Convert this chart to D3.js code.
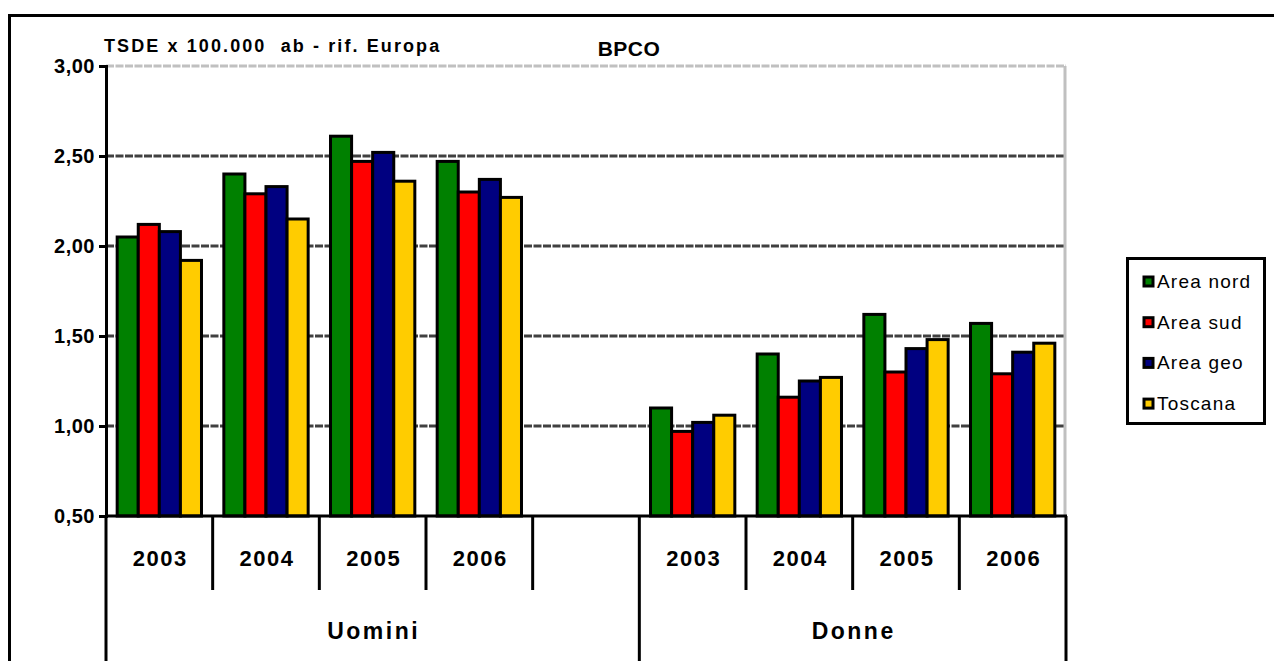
<!DOCTYPE html>
<html>
<head>
<meta charset="utf-8">
<script src="https://cdn.jsdelivr.net/npm/d3@7"></script>
<style>
  body { margin: 0; background: #fff; }
  svg { display: block; font-family: "Liberation Sans", Arial, sans-serif; }
</style>
</head>
<body>
<svg id="chart" width="1274" height="661"></svg>
<script>
// categories: 4 years for men, one empty slot, 4 years for women
const catLabels = ["2003", "2004", "2005", "2006", "", "2003", "2004", "2005", "2006"];
const groupLabels = ["Uomini", "Donne"];
const groupSizes = [5, 4];

const seriesNames = ["Area nord", "Area sud", "Area geo", "Toscana"];
const seriesColors = ["#008000", "#ff0000", "#000080", "#ffcc00"];

const areaNord = [2.05, 2.4, 2.61, 2.47, null, 1.1, 1.4, 1.62, 1.57];
const areaSud = [2.12, 2.29, 2.47, 2.3, null, 0.97, 1.16, 1.3, 1.29];
const areaGeo = [2.08, 2.33, 2.52, 2.37, null, 1.02, 1.25, 1.43, 1.41];
const toscana = [1.92, 2.15, 2.36, 2.27, null, 1.06, 1.27, 1.48, 1.46];

const yTicks = [0.5, 1.0, 1.5, 2.0, 2.5, 3.0];

const allSeries = [areaNord, areaSud, areaGeo, toscana];

const svg = d3.select("#chart");
const pLeft = 106, pRight = 1066, pTop = 66, pBottom = 516;

// outer frame (runs off the right and bottom edge)
svg.append("rect")
  .attr("x", 9.5).attr("y", 15.5)
  .attr("width", 1300).attr("height", 700)
  .attr("fill", "none").attr("stroke", "#000").attr("stroke-width", 3);

const y = d3.scaleLinear().domain([0.5, 3]).range([pBottom, pTop]);
const x = d3.scaleBand().domain(d3.range(catLabels.length)).range([pLeft, pRight]);
const x1 = d3.scaleBand().domain(d3.range(seriesNames.length))
  .range([0, x.bandwidth()]).paddingOuter(0.53);

const fmt = (v) => d3.format(".2f")(v).replace(".", ",");

// gridlines
svg.append("g").selectAll("line")
  .data(yTicks.filter((t) => t > 0.5))
  .join("line")
  .attr("x1", pLeft).attr("x2", pRight)
  .attr("y1", (d) => y(d)).attr("y2", (d) => y(d))
  .attr("stroke", (d) => (d === 3 ? "#c0c0c0" : "#404040"))
  .attr("stroke-width", 3)
  .attr("stroke-dasharray", "8,1.5");

// plot area right border
svg.append("line")
  .attr("x1", pRight - 1).attr("x2", pRight - 1)
  .attr("y1", pTop).attr("y2", pBottom)
  .attr("stroke", "#c0c0c0").attr("stroke-width", 3);

// bars
const rows = [];
allSeries.forEach((s, si) => {
  s.forEach((v, ci) => {
    if (v !== null) rows.push({ si: si, ci: ci, v: v });
  });
});

svg.append("g").selectAll("rect")
  .data(rows)
  .join("rect")
  .attr("x", (d) => x(d.ci) + x1(d.si))
  .attr("y", (d) => y(d.v))
  .attr("width", x1.bandwidth())
  .attr("height", (d) => y(0.5) - y(d.v))
  .attr("fill", (d) => seriesColors[d.si])
  .attr("stroke", "#000")
  .attr("stroke-width", 3);

// y axis
const yAxis = svg.append("g").attr("transform", "translate(" + pLeft + ",0)")
  .call(d3.axisLeft(y).tickValues(yTicks).tickFormat(fmt).tickSize(7).tickPadding(4));
yAxis.select(".domain").attr("stroke", "#000").attr("stroke-width", 3);
yAxis.selectAll(".tick line").attr("stroke", "#000").attr("stroke-width", 3);
yAxis.selectAll(".tick text")
  .attr("font-family", "Liberation Sans, Arial, sans-serif")
  .attr("font-size", 20).attr("font-weight", "bold").attr("fill", "#000")
  .attr("letter-spacing", 0.5);

// x axis line
svg.append("line")
  .attr("x1", pLeft - 1).attr("x2", pRight + 1)
  .attr("y1", pBottom).attr("y2", pBottom)
  .attr("stroke", "#000").attr("stroke-width", 3);

// category separators, group borders go to the bottom
const groupEdges = [0];
groupSizes.forEach((n, i) => groupEdges.push(groupEdges[i] + n));

const edges = d3.range(catLabels.length + 1);
svg.append("g").selectAll("line")
  .data(edges)
  .join("line")
  .attr("x1", (d) => (d < catLabels.length ? x(d) : pRight))
  .attr("x2", (d) => (d < catLabels.length ? x(d) : pRight))
  .attr("y1", pBottom)
  .attr("y2", (d) => (groupEdges.includes(d) ? 700 : 590))
  .attr("stroke", "#000").attr("stroke-width", 3);

// year labels
svg.append("g").selectAll("text")
  .data(catLabels)
  .join("text")
  .attr("x", (d, i) => x(i) + x.bandwidth() / 2 + 1)
  .attr("y", 566)
  .attr("text-anchor", "middle")
  .attr("font-size", 22).attr("font-weight", "bold")
  .attr("letter-spacing", 1.5)
  .text((d) => d);

// group labels
svg.append("g").selectAll("text")
  .data(groupLabels)
  .join("text")
  .attr("x", (d, i) => {
    const a = x(groupEdges[i]);
    const b = groupEdges[i + 1] < catLabels.length ? x(groupEdges[i + 1]) : pRight;
    return (a + b) / 2 + 1;
  })
  .attr("y", 639)
  .attr("text-anchor", "middle")
  .attr("font-size", 23).attr("font-weight", "bold")
  .attr("letter-spacing", 2.5)
  .text((d) => d);

// titles
svg.append("text")
  .attr("x", 104).attr("y", 52)
  .attr("font-size", 18).attr("font-weight", "bold")
  .attr("letter-spacing", 2.1)
  .attr("xml:space", "preserve")
  .text("TSDE x 100.000  ab - rif. Europa");

svg.append("text")
  .attr("x", 629).attr("y", 56)
  .attr("text-anchor", "middle")
  .attr("font-size", 21).attr("font-weight", "bold")
  .attr("letter-spacing", 0.5)
  .text("BPCO");

// legend
const legend = svg.append("g");
legend.append("rect")
  .attr("x", 1127.5).attr("y", 258.5)
  .attr("width", 137).attr("height", 165)
  .attr("fill", "#fff").attr("stroke", "#000").attr("stroke-width", 3);

const items = legend.selectAll("g.item")
  .data(seriesNames)
  .join("g")
  .attr("class", "item")
  .attr("transform", (d, i) => "translate(1143," + (281 + i * 40.7) + ")");

items.append("rect")
  .attr("x", 1).attr("y", -4)
  .attr("width", 9).attr("height", 9)
  .attr("fill", (d, i) => seriesColors[i])
  .attr("stroke", "#000").attr("stroke-width", 3);

items.append("text")
  .attr("x", 14).attr("y", 7)
  .attr("font-size", 19)
  .attr("letter-spacing", 1.2)
  .text((d) => d);
</script>
</body>
</html>
